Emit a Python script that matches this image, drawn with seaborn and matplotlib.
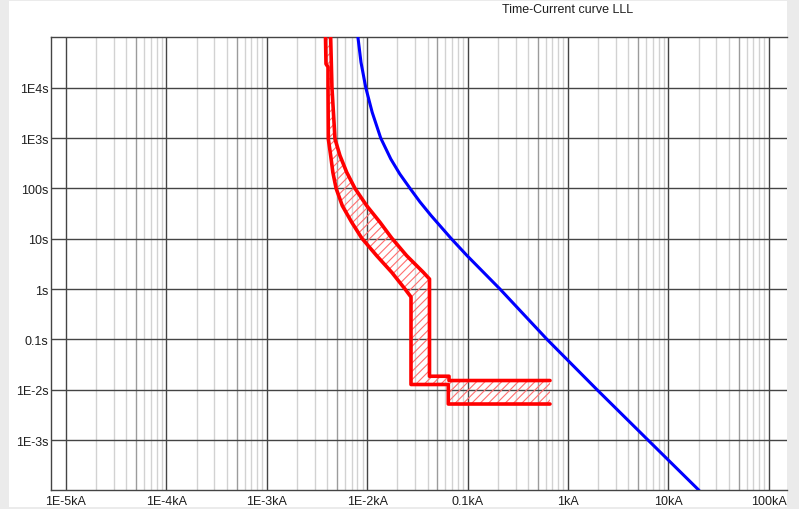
import numpy as np
import pandas as pd
import matplotlib
matplotlib.use("Agg")
import matplotlib.pyplot as plt
from matplotlib.patches import Rectangle
from matplotlib.ticker import FixedLocator, FixedFormatter, NullLocator
import seaborn as sns

# ---- data: current in kA, time in s ----
# upstream device characteristic (blue)
blue_I = [0.00809, 0.00867, 0.00968, 0.01121, 0.01363, 0.01718, 0.02112, 0.02669,
          0.03357, 0.0434, 0.0688, 0.0989, 0.210, 0.618, 1.945, 6.26, 20.2]
blue_t = [1.0e5, 3.2e4, 1.0e4, 3245, 1000, 383, 193, 100,
          53.6, 28.6, 10.0, 4.59, 1.0, 0.1, 0.01, 0.001, 1.0e-4]

# protective device band: maximum (upper/right) boundary
max_I = [0.004325, 0.004456, 0.004778, 0.005358, 0.006252, 0.007551, 0.009886,
         0.01341, 0.01754, 0.02473, 0.03620, 0.04174, 0.04174, 0.06527, 0.06527, 0.6617]
max_t = [1.0e5, 1.0e4, 957, 446, 208, 100, 45.2,
         21.2, 10.3, 4.59, 2.15, 1.58, 0.0185, 0.0185, 0.0152, 0.0152]

# protective device band: minimum (lower/left) boundary
min_I = [0.003843, 0.003887, 0.004071, 0.004071, 0.0041, 0.004329, 0.00455, 0.004900,
         0.005650, 0.007009, 0.008813, 0.01243, 0.01754, 0.02379, 0.02731, 0.02731,
         0.06423, 0.06423, 0.6617]
min_t = [1.0e5, 2.96e4, 2.58e4, 1.0e4, 957, 446, 208, 100,
         45.2, 21.2, 10.3, 4.59, 2.15, 1.0, 0.694, 0.01268,
         0.01268, 0.005193, 0.005193]

x_ticks = [1e-5, 1e-4, 1e-3, 1e-2, 1e-1, 1, 10, 100]
x_labels = ["1E-5kA", "1E-4kA", "1E-3kA", "1E-2kA", "0.1kA", "1kA", "10kA", "100kA"]
y_ticks = [1e4, 1e3, 100, 10, 1, 0.1, 1e-2, 1e-3]
y_labels = ["1E4s", "1E3s", "100s", "10s", "1s", "0.1s", "1E-2s", "1E-3s"]

title = "Time-Current curve LLL"

# ---- style ----
sns.set_style("white")
plt.rcParams["font.family"] = ["Liberation Sans", "DejaVu Sans"]
plt.rcParams["hatch.linewidth"] = 0.8

W, H = 799, 510
fig = plt.figure(figsize=(W / 100, H / 100), dpi=100, facecolor="#ebebeb")
fig.patches.append(Rectangle((9 / W, 2 / H), 778 / W, 506 / H, transform=fig.transFigure,
                             facecolor="white", edgecolor="none", zorder=-10))

ax = fig.add_axes([51 / W, 19 / H, 736 / W, 453 / H])
ax.set_facecolor("white")
ax.set_xscale("log")
ax.set_yscale("log")
ax.set_xlim(10 ** -5.1494, 10 ** 2.1813)
ax.set_ylim(10 ** -3.993, 10 ** 5.007)

major_col = "#444444"
ax.xaxis.set_major_locator(FixedLocator(x_ticks))
ax.xaxis.set_major_formatter(FixedFormatter(x_labels))
ax.yaxis.set_major_locator(FixedLocator(y_ticks))
ax.yaxis.set_major_formatter(FixedFormatter(y_labels))
ax.xaxis.set_minor_locator(NullLocator())
ax.yaxis.set_minor_locator(NullLocator())

# intermediate current lines within each decade; the 5x line is emphasised
for dec in x_ticks[:-1]:
    for m in (2, 3, 4, 6, 7, 8, 9):
        ax.axvline(m * dec, color="#d2d2d2", lw=1.0, zorder=0.3)
    ax.axvline(5 * dec, color="#9c9c9c", lw=1.0, zorder=0.5)
ax.grid(which="major", axis="both", color=major_col, lw=1.0, zorder=1)
ax.set_axisbelow(True)

ax.tick_params(which="both", length=0, labelsize=9, colors="#1e1e1e")
ax.tick_params(axis="x", pad=3.6)
ax.tick_params(axis="y", pad=1.8)

for side in ("left", "top", "bottom"):
    ax.spines[side].set_color(major_col)
    ax.spines[side].set_linewidth(1.0)
ax.spines["right"].set_visible(False)

# hatched band between minimum and maximum characteristic
band_I = max_I + min_I[::-1]
band_t = max_t + min_t[::-1]
ax.fill(band_I, band_t, facecolor="none", edgecolor="#ff6f6f", linewidth=0,
        hatch="////", zorder=2)

blue_df = pd.DataFrame({"I": blue_I, "t": blue_t})
max_df = pd.DataFrame({"I": max_I, "t": max_t})
min_df = pd.DataFrame({"I": min_I, "t": min_t})

sns.lineplot(data=blue_df, x="I", y="t", sort=False, estimator=None, color="#0000ff",
             lw=2.2, ax=ax, zorder=3)
sns.lineplot(data=max_df, x="I", y="t", sort=False, estimator=None, color="#ff0000",
             lw=2.6, ax=ax, zorder=3)
sns.lineplot(data=min_df, x="I", y="t", sort=False, estimator=None, color="#ff0000",
             lw=2.6, ax=ax, zorder=3)
ax.set_xlabel("")
ax.set_ylabel("")

fig.text(502 / W, 1 - 10 / H, title, ha="left", va="center", fontsize=9, color="#1e1e1e")

fig.savefig("out.png", dpi=100, facecolor=fig.get_facecolor())
